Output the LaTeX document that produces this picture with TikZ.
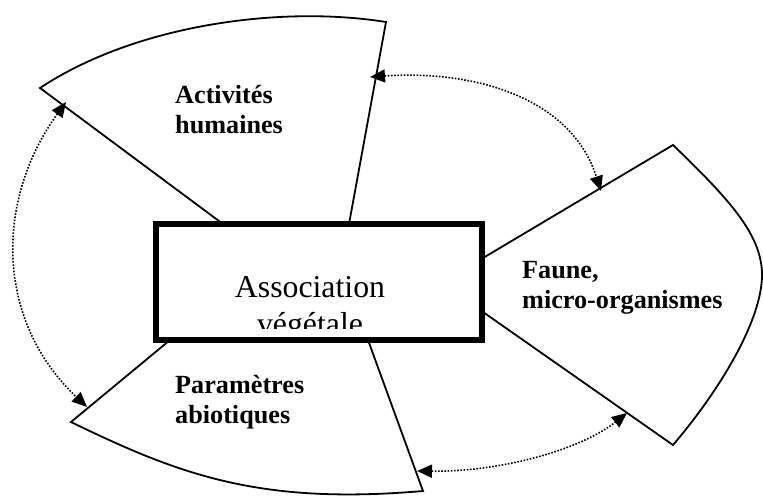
\documentclass[tikz,border=0pt]{standalone}
\usepackage{fontspec}
\setmainfont{Liberation Serif}
\usetikzlibrary{arrows.meta}

\begin{document}
\begin{tikzpicture}[x=1pt,y=-1pt,
		bord/.style={line width=1.8pt,line join=miter},
		lien/.style={line width=1.6pt,dash pattern=on 1.6pt off 1.6pt,
			{Triangle[length=15pt,width=13pt]}-{Triangle[length=15pt,width=13pt]}},
		etiq/.style={font=\fontsize{26.2}{30}\selectfont\bfseries,align=left,anchor=base west,inner sep=0pt}]
				\useasboundingbox (0,0) rectangle (763,496);
				\draw[bord] (223,224) to (40,88) .. controls (135,25) and (280,5) .. (386,22) to (349,224);
				\draw[bord] (483,258) to (673,145) .. controls (730,200) and (762,235) .. (762,275) .. controls (762,320) and (720,390) .. (673,445) to (483,312);
				\draw[bord] (170,340) to (71,422) .. controls (180,475) and (260,505) .. (423,491) to (368,340);
				\node[draw,fill=white,line width=6.5pt,minimum width=326pt,minimum height=116pt,inner sep=0pt] (boite) at (319,282) {};
				\begin{scope}
					\clip (160,228) rectangle (478,328);
					\node[font=\fontsize{31.8}{37}\selectfont,align=center,anchor=base,inner sep=0pt] (assoc) at (310,334) {Association\\végétale};
				\end{scope}
				\node[etiq] (activ) at (175,133) {Activités\\humaines};
				\node[etiq] (faune) at (522,308) {Faune,\\micro-organismes};
				\node[etiq] (param) at (175,423) {Paramètres\\abiotiques};
				\coordinate (activ-d) at (370,77);
				\coordinate (activ-g) at (66,102);
				\coordinate (faune-h) at (601,191);
				\coordinate (faune-b) at (627,413);
				\coordinate (param-h) at (87,407);
				\coordinate (param-d) at (417,471);
				\draw[lien] (activ-d) .. controls (470,70) and (570,95) .. (faune-h);
				\draw[lien] (activ-g) .. controls (-5,200) and (-5,320) .. (param-h);
				\draw[lien] (param-d) .. controls (500,472) and (580,450) .. (faune-b);
			\end{tikzpicture}
\end{document}
